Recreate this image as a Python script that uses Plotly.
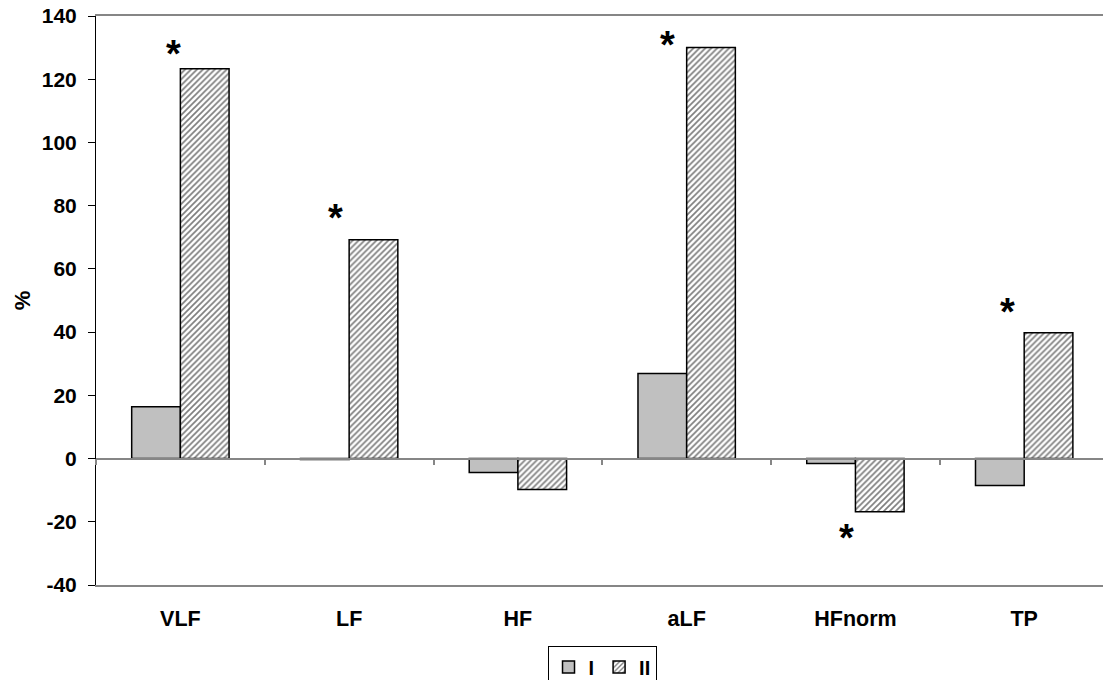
import plotly.graph_objects as go

categories = ["VLF", "LF", "HF", "aLF", "HFnorm", "TP"]
series_I = [16.4, -0.3, -4.4, 26.9, -1.6, -8.5]
series_II = [123.3, 69.2, -9.8, 130.0, -16.8, 39.8]
y_ticks = [-40, -20, 0, 20, 40, 60, 80, 100, 120, 140]
y_tick_labels = ["-40", "-20", "0", "20", "40", "60", "80", "100", "120", "140"]

# significance markers: category and level of the asterisk
sig_categories = ["VLF", "LF", "aLF", "HFnorm", "TP"]
sig_levels = [130.2, 78.4, 133.0, -22.8, 48.6]
sig_offsets = [-0.038, -0.078, -0.113, -0.05, -0.099]

FONT = "Liberation Sans, Arial, sans-serif"

fig = go.Figure()
fig.add_trace(go.Bar(
    x=categories, y=series_I, name="I",
    marker=dict(color="#C0C0C0", line=dict(color="black", width=1.5)),
))
fig.add_trace(go.Bar(
    x=categories, y=series_II, name="II",
    marker=dict(color="white", line=dict(color="black", width=1.5),
                pattern=dict(shape="/", fgcolor="black", bgcolor="white",
                             size=4.2, solidity=0.4, fillmode="overlay")),
))
# invisible helper trace to carry the zero-line axis with boundary ticks
fig.add_trace(go.Scatter(
    x=categories, y=[0] * len(categories), xaxis="x2", mode="markers",
    marker=dict(opacity=0), showlegend=False, hoverinfo="skip",
))

for cat, lvl, off in zip(sig_categories, sig_levels, sig_offsets):
    fig.add_annotation(
        x=categories.index(cat) + off, y=lvl, text="<b>*</b>",
        showarrow=False, font=dict(family=FONT, size=38, color="black"),
        xanchor="center", yanchor="middle", yshift=-7,
    )

xrange = [-0.5, 5.467]
fig.update_layout(
    width=1103, height=680,
    margin=dict(l=96, r=0, t=16, b=95, autoexpand=False),
    paper_bgcolor="white", plot_bgcolor="white",
    barmode="group", bargap=0.423, bargroupgap=0,
    font=dict(family=FONT, size=21, color="black"),
    xaxis=dict(
        range=xrange, type="category", showgrid=False, zeroline=False,
        showline=True, mirror=True, linecolor="#868686", linewidth=1.5,
        ticks="", tickfont=dict(family=FONT, size=21.5, color="black", weight="bold"),
        ticklabelstandoff=13, automargin=False,
    ),
    xaxis2=dict(
        range=xrange, type="category", overlaying="x", anchor="free",
        position=40 / 180, showgrid=False, zeroline=False,
        showline=True, linecolor="#868686", linewidth=1.5,
        ticks="outside", tickson="boundaries", ticklen=6, tickcolor="#868686",
        tickwidth=1.5, showticklabels=False, automargin=False,
    ),
    yaxis=dict(
        range=[-40, 140], tickvals=y_ticks, ticktext=y_tick_labels,
        showgrid=False, zeroline=False,
        showline=True, linecolor="black", linewidth=1,
        ticks="outside", ticklen=7, tickcolor="black",
        tickfont=dict(family=FONT, size=21, color="black", weight="bold"),
        ticklabelstandoff=7, automargin=False,
        title=dict(text="<b>%</b>", font=dict(family=FONT, size=22), standoff=5),
    ),
    legend=dict(
        orientation="h", x=0.5025, xanchor="center", y=-0.108, yanchor="top",
        bordercolor="black", borderwidth=1, bgcolor="white",
        font=dict(family=FONT, size=20, color="black", weight="bold"),
        itemwidth=30, tracegroupgap=0,
    ),
    showlegend=True,
)

fig.write_html(
    "out.html",
    config={"displayModeBar": False},
    post_script="document.body.style.margin='0';document.body.style.overflow='hidden';",
)
